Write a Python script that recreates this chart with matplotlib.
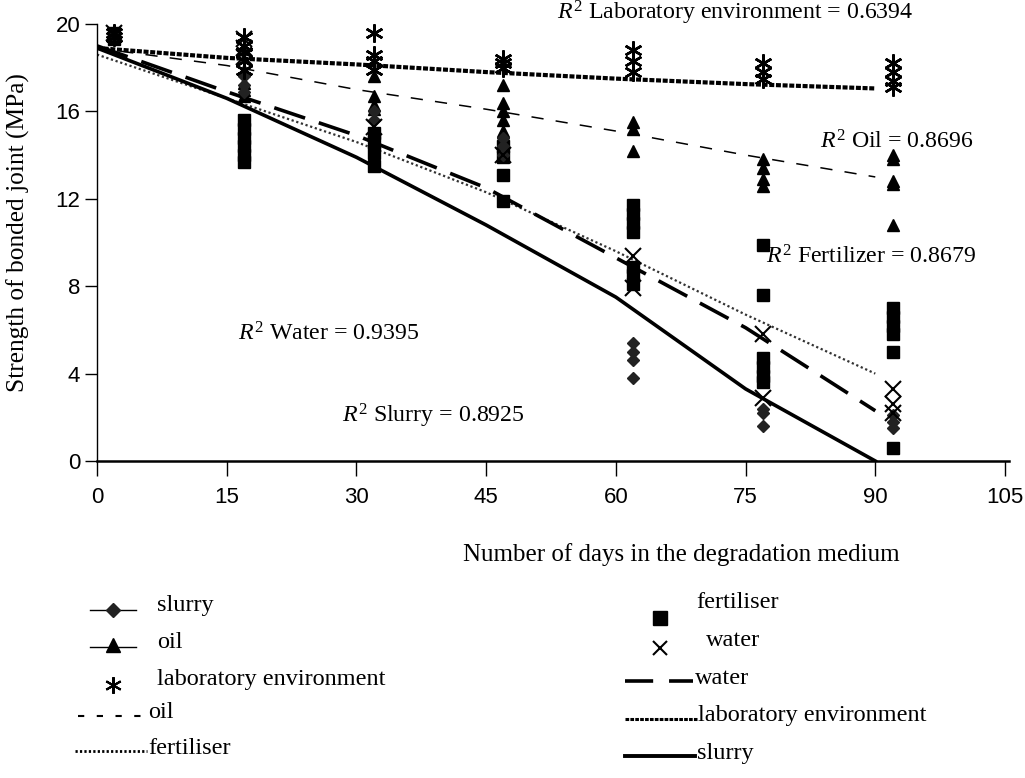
import matplotlib
matplotlib.use("Agg")
import matplotlib.pyplot as plt
from matplotlib.lines import Line2D

plt.rcParams['mathtext.fontset'] = 'custom'
plt.rcParams['mathtext.rm'] = 'Liberation Serif'
plt.rcParams['mathtext.it'] = 'Liberation Serif:italic'

# ---------------- data ----------------
days = [2, 17, 32, 47, 62, 77, 92]

lab_pts = [[19.6, 19.4], [19.4, 19.0, 18.7, 18.3, 17.9], [19.6, 18.6, 18.3, 17.9],
           [18.4, 18.2, 18.0], [18.8, 18.3, 17.8], [18.2, 17.8, 17.5], [18.2, 17.8, 17.4, 17.1]]
oil_pts = [[19.5], [17.9, 17.3, 17.0, 16.7], [17.6, 16.7, 16.3, 16.1],
           [17.2, 16.4, 16.0, 15.6, 15.1], [15.5, 15.2, 14.2], [13.8, 13.4, 12.9, 12.6],
           [14.0, 13.8, 12.8, 12.7, 10.8]]
slurry_pts = [[19.5], [17.6, 17.2, 16.9], [16.0, 15.6], [14.8, 14.4, 14.0],
              [5.4, 5.0, 4.6, 3.8], [2.4, 2.2, 1.6], [2.1, 1.8, 1.5]]
water_pts = [[19.6], [19.3, 18.9, 18.5], [15.3], [14.0], [9.4, 7.9], [5.8, 2.9], [3.3, 2.6, 2.2]]
fert_pts = [[19.3, 19.6], [15.6, 15.2, 14.8, 14.4, 14.0, 13.7], [15.0, 14.6, 14.1, 13.5],
            [14.4, 13.9, 13.1, 11.9], [11.7, 11.3, 10.9, 10.5, 8.9, 8.5, 8.1],
            [9.9, 7.6, 4.7, 4.3, 3.9, 3.6], [7.0, 6.6, 6.2, 5.8, 5.0, 0.6]]

fit_days = [0, 15, 30, 45, 60, 75, 90]
lab_fit = [18.9, 18.45, 18.15, 17.8, 17.5, 17.25, 17.05]
oil_fit = [18.9, 18.1, 17.0, 16.1, 15.1, 14.0, 13.0]
fert_fit = [18.6, 16.6, 14.6, 12.3, 9.6, 6.7, 4.0]
water_fit = [19.0, 16.9, 14.9, 12.5, 9.3, 6.1, 2.3]
slurry_fit = [18.9, 16.6, 13.9, 10.8, 7.5, 3.3, 0.0]

x_ticks = [0, 15, 30, 45, 60, 75, 90, 105]
y_ticks = [0, 4, 8, 12, 16, 20]

r2_labels = ["Laboratory environment = 0.6394", "Oil = 0.8696", "Fertilizer = 0.8679",
             "Water = 0.9395", "Slurry = 0.8925"]

W, H = 1025, 778
fig = plt.figure(figsize=(W / 100, H / 100), dpi=100)


def fx(px):
    return px / W


def fy(py):
    return 1 - py / H


serif = 'Liberation Serif'
sans = 'Liberation Sans'

ax = fig.add_axes([fx(97), fy(461), fx(1005 - 97), (461 - 24) / H])
ax.set_xlim(0, 105)
ax.set_ylim(0, 20)
for s in ['top', 'right']:
    ax.spines[s].set_visible(False)
ax.spines['left'].set_linewidth(1.0)
ax.spines['bottom'].set_linewidth(1.8)
ax.spines['bottom'].set_bounds(0, 105.5)
ax.set_xticks(x_ticks)
ax.set_yticks(y_ticks)
ax.tick_params(axis='x', direction='out', length=11, width=1.0, pad=8, labelsize=16)
ax.tick_params(axis='y', direction='out', length=9, width=1.0, pad=3, labelsize=16)
for lab in ax.get_xticklabels() + ax.get_yticklabels():
    lab.set_fontfamily(sans)

# fitted lines
ax.plot(fit_days, lab_fit, color='black', lw=3.0, ls=(0, (1.2, 0.4)), zorder=2)
ax.plot(fit_days, oil_fit, color='black', lw=1.1, ls=(0, (8, 8)), zorder=2)
ax.plot(fit_days, fert_fit, color='#333333', lw=1.6, ls=(0, (1, 1.2)), zorder=2)
ax.plot(fit_days, water_fit, color='black', lw=2.6, ls=(0, (9, 4)), zorder=2)
ax.plot(fit_days, slurry_fit, color='black', lw=2.6, ls='-', zorder=2)


def scatter_pts(pts, **kw):
    xs, ys = [], []
    for d, vals in zip(days, pts):
        for v in vals:
            xs.append(d)
            ys.append(v)
    ax.plot(xs, ys, ls='none', zorder=3, **kw)


scatter_pts(fert_pts, marker='s', ms=9, color='black', mec='black')
scatter_pts(oil_pts, marker='^', ms=9, color='black', mec='black')
scatter_pts(slurry_pts, marker='D', ms=6.5, color='#222222', mec='#222222')
scatter_pts(water_pts, marker='x', ms=12, color='black', mew=1.5)
scatter_pts(lab_pts, marker=(6, 2, 0), ms=13, color='black', mew=1.8)

# R^2 annotations (pixel positions of left edge / vertical centre)
r2_pos = [(557, 13), (820, 142), (766, 257), (238, 334), (342, 416)]
for txt, (px, py) in zip(r2_labels, r2_pos):
    fig.text(fx(px), fy(py), r'$\mathit{R}^{2}$ ' + txt, fontfamily=serif,
             fontsize=17.2, ha='left', va='center')

# axis labels
fig.text(fx(18), fy(233), 'Strength of bonded joint (MPa)', rotation=90,
         fontfamily=serif, fontsize=18.3, ha='center', va='center')
fig.text(fx(681), fy(555), 'Number of days in the degradation medium',
         fontfamily=serif, fontsize=18, ha='center', va='center')

# -------- legend (manual) --------
def hline(x0, x1, y, **kw):
    fig.add_artist(Line2D([fx(x0), fx(x1)], [fy(y), fy(y)], transform=fig.transFigure, **kw))


def hmark(x, y, **kw):
    fig.add_artist(Line2D([fx(x)], [fy(y)], transform=fig.transFigure, ls='none', **kw))


def ltext(x, y, s):
    fig.text(fx(x), fy(y), s, fontfamily=serif, fontsize=17.5, ha='left', va='center')


# left column
hline(90, 136, 610, color='black', lw=1.0)
hmark(113, 610, marker='D', ms=7, color='#222222')
ltext(157, 606, 'slurry')
hline(90, 136, 647, color='black', lw=1.0)
hmark(113, 645, marker='^', ms=10, color='black')
ltext(157, 642, 'oil')
hmark(113, 685, marker=(6, 2, 0), ms=12, color='black', mew=1.5)
ltext(157, 679, 'laboratory environment')
hline(78, 146, 716, color='black', lw=1.5, ls=(0, (3, 6)))
ltext(148, 713, 'oil')
hline(75, 147, 751, color='black', lw=2.0, ls=(0, (0.8, 0.8)))
ltext(148, 748, 'fertiliser')

# right column
hmark(660, 618, marker='s', ms=10, color='black')
ltext(696, 603, 'fertiliser')
hmark(660, 648, marker='x', ms=10, color='black', mew=1.5)
ltext(706, 640, 'water')
hline(625, 693, 681, color='black', lw=2.6, ls=(0, (7.8, 4.4)))
ltext(695, 678, 'water')
hline(625, 697, 719, color='black', lw=2.2, ls=(0, (1.2, 0.4)))
ltext(698, 716, 'laboratory environment')
hline(625, 695, 756, color='black', lw=2.8)
ltext(697, 753, 'slurry')

fig.savefig('out.png', dpi=100)
